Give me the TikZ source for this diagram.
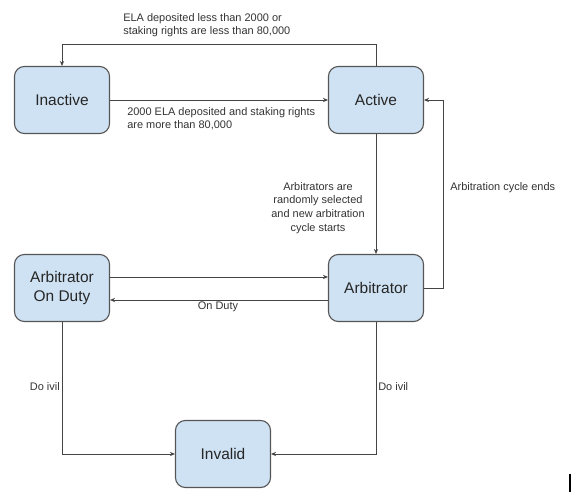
\documentclass[tikz,border=0pt]{standalone}
\usepackage{fontspec}
\setmainfont{Liberation Sans}
\usetikzlibrary{arrows.meta}
\definecolor{stateblue}{HTML}{CFE2F3}
\definecolor{stateedge}{HTML}{555555}
\definecolor{linkgray}{HTML}{444444}
\begin{document}
\begin{tikzpicture}[x=0.025cm,y=-0.025cm,
    state/.style={draw=stateedge, fill=stateblue, line width=0.8pt, rounded corners=7pt,
      minimum width=2.375cm, minimum height=1.675cm, align=center,
      font=\fontsize{11}{13}\selectfont, text=black!85},
    link/.style={draw=linkgray, line width=0.7pt, -{Stealth[length=3.5pt,width=3pt]}},
    note/.style={inner sep=0pt, font=\fontsize{7.8}{9.7}\selectfont, text=black!80}]

        \useasboundingbox (0,0) rectangle (580,500);

        % States
        \node[state] (inactive) at (62,100) {Inactive};
        \node[state] (active) at (376,100) {Active};
        \node[state] (arbitrator) at (376,288) {Arbitrator};
        \node[state] (onduty) at (62,288) {Arbitrator\\On Duty};
        \node[state] (invalid) at (223,454) {Invalid};

        % Transitions
        \draw[link] (active.north) -- ++(0,-21) -| (inactive.north);
        \draw[link] (inactive.east) -- (active.west);
        \draw[link] (active.south) -- (arbitrator.north);
        \draw[link] (arbitrator.east) -- ++(19,0) |- (active.east);
        \draw[link] ([yshift=0.275cm]onduty.east) -- ([yshift=0.275cm]arbitrator.west);
        \draw[link] ([yshift=-0.3cm]arbitrator.west) -- ([yshift=-0.3cm]onduty.east);
        \draw[link] (onduty.south) |- (invalid.west);
        \draw[link] (arbitrator.south) |- (invalid.east);

        % Labels
        \node[note, anchor=north west, align=left] (lowstake) at (123,13)
          {ELA deposited less than 2000 or\\staking rights are less than 80,000};
        \node[note, anchor=north west, align=left] (highstake) at (127,107)
          {2000 ELA deposited and staking rights\\are more than 80,000};
        \node[note, anchor=north, align=center] (selected) at (318,182)
          {Arbitrators are\\randomly selected\\and new arbitration\\cycle starts};
        \node[note, anchor=west] (cycleends) at (450,188) {Arbitration cycle ends};
        \node[note] (dutylabel) at (218,307) {On Duty};
        \node[note, anchor=east] (evilleft) at (60,387) {Do ivil};
        \node[note, anchor=west] (evilright) at (378,387) {Do ivil};

        % Cursor
        \draw[line width=0.8pt] (570,474) -- (570,492);
\end{tikzpicture}
\end{document}
